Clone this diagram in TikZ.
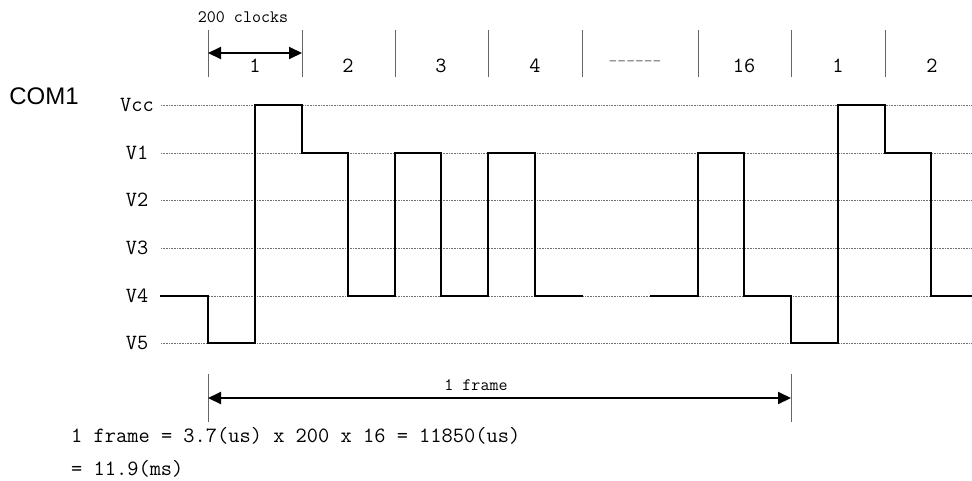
\documentclass[tikz,border=0pt]{standalone}
\usepackage{fontspec}
\setmainfont{Liberation Sans}
\usetikzlibrary{arrows.meta}
\begin{document}
\begin{tikzpicture}[x=1pt,y=-1pt,
  lvl/.style={font=\ttfamily\fontsize{21.7}{24}\selectfont, text=black, inner sep=0pt, anchor=center},
  gridline/.style={black!55, line width=0.7pt, dash pattern=on 0.8pt off 0.8pt},
  wave/.style={line width=2pt, line join=miter, line cap=rect},
  tickline/.style={black!60, line width=1pt},
  dimarrow/.style={line width=2pt, {Triangle[length=13pt,width=12pt]}-{Triangle[length=13pt,width=12pt]}},
  smalltxt/.style={font=\ttfamily\fontsize{17.5}{20}\selectfont, text=black, inner sep=0pt},
  numtxt/.style={font=\ttfamily\fontsize{21.7}{24}\selectfont, text=black, inner sep=0pt, anchor=base},
  eqtxt/.style={font=\ttfamily\fontsize{21.8}{24}\selectfont, text=black, inner sep=0pt, anchor=base west}]
\useasboundingbox (0,0) rectangle (972,480);

% level grid lines and labels
\foreach \n/\y in {Vcc/105,V1/153,V2/200,V3/248,V4/296,V5/343}{
  \node[lvl] (l\n) at (137,\y) {\n};
  \coordinate (gs\n) at (161,\y);
  \coordinate (ge\n) at (972,\y);
  \draw[gridline] (gs\n) -- (ge\n);
}

\node[font=\fontsize{24}{28}\selectfont, inner sep=0pt] (com) at (44,96) {COM1};

% top ticks and slot numbers
\foreach \i/\x in {a/208,b/302,c/395,d/488,e/582,f/698,g/791,h/885}{
  \coordinate (tt\i) at (\x,30);
  \coordinate (tb\i) at (\x,77);
  \draw[tickline] (tt\i) -- (tb\i);
}
\node[numtxt] (n1) at (255,72) {1};
\node[numtxt] (n2) at (348,72) {2};
\node[numtxt] (n3) at (441,72) {3};
\node[numtxt] (n4) at (535,72) {4};
\node[font=\ttfamily\fontsize{17}{20}\selectfont, text=black!55, inner sep=0pt] (ndots) at (635,64) {------};
\node[numtxt] (n16) at (744,72) {16};
\node[numtxt] (n1b) at (838,72) {1};
\node[numtxt] (n2b) at (932,72) {2};

% 200 clocks dimension
\node[smalltxt, anchor=base] (clk) at (243,22) {200 clocks};
\coordinate (ca) at (208,53);
\coordinate (cb) at (302,53);
\draw[dimarrow] (ca) -- (cb);

% waveform
\draw[wave] (161,296) -- (208,296) -- (208,343) -- (255,343) -- (255,105) -- (302,105)
  -- (302,153) -- (348,153) -- (348,296) -- (395,296) -- (395,153) -- (441,153)
  -- (441,296) -- (488,296) -- (488,153) -- (535,153) -- (535,296) -- (582,296);
\draw[wave] (651,296) -- (698,296) -- (698,153) -- (744,153) -- (744,296) -- (791,296)
  -- (791,343) -- (838,343) -- (838,105) -- (885,105) -- (885,153) -- (931,153)
  -- (931,296) -- (972,296);

% 1 frame dimension
\coordinate (fta) at (208,374);
\coordinate (fba) at (208,422);
\coordinate (ftb) at (791,374);
\coordinate (fbb) at (791,422);
\draw[tickline] (fta) -- (fba);
\draw[tickline] (ftb) -- (fbb);
\coordinate (fa) at (208,398);
\coordinate (fb) at (791,398);
\draw[dimarrow] (fa) -- (fb);
\node[smalltxt, anchor=base] (frm) at (476,390) {1 frame};

% equations
\node[eqtxt] (eq1) at (71,442) {1 frame = 3.7(us) x 200 x 16 = 11850(us)};
\node[eqtxt] (eq2) at (71,475) {= 11.9(ms)};
\end{tikzpicture}
\end{document}
